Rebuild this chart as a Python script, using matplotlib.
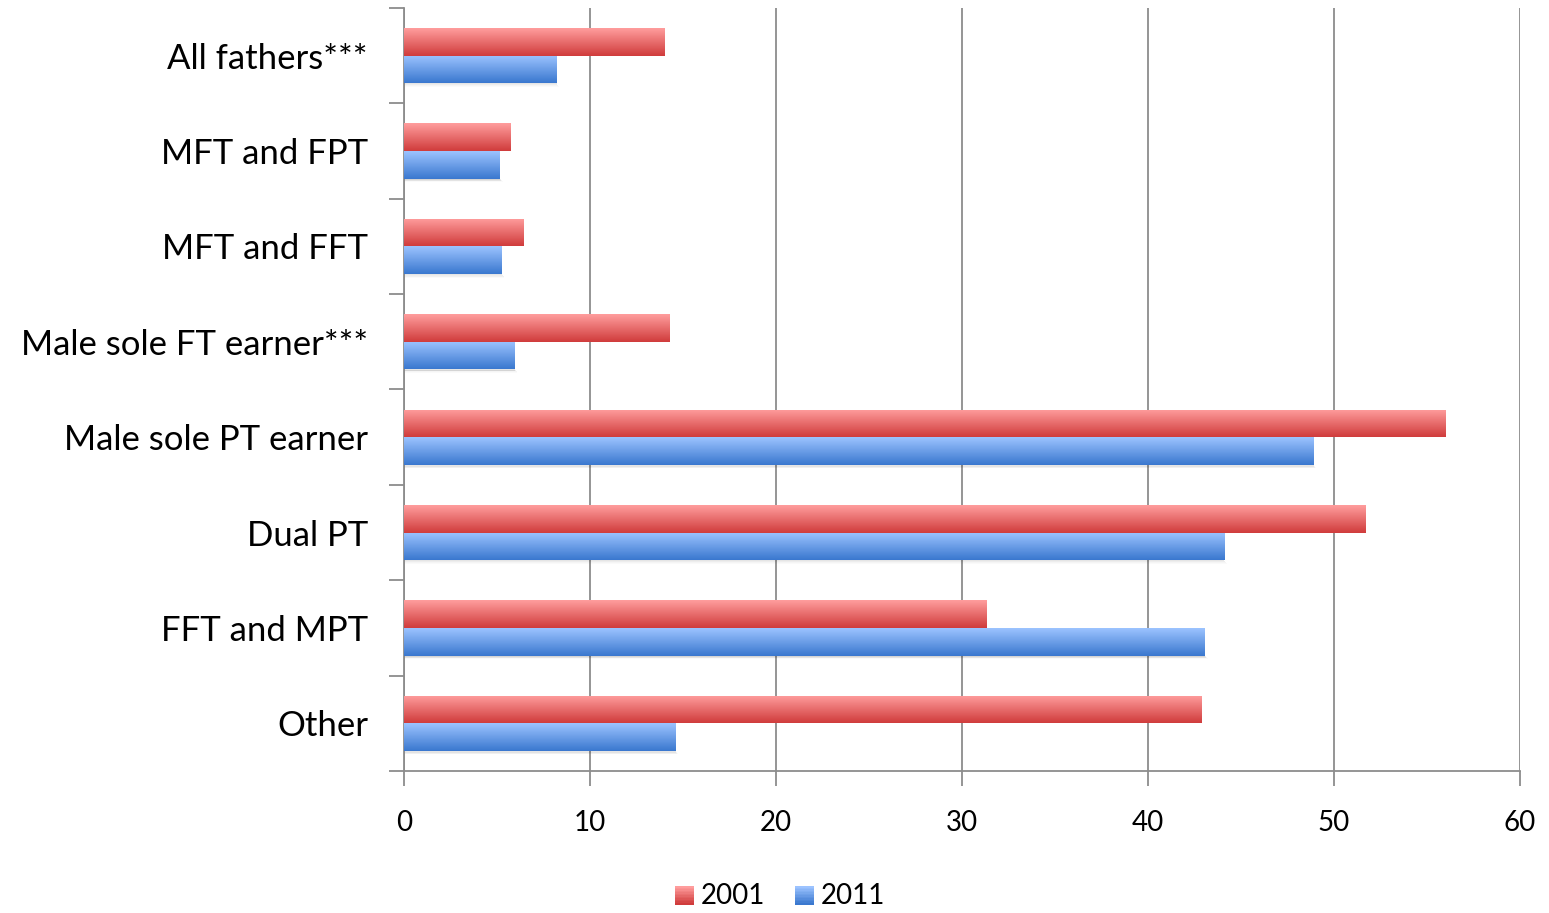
"""Horizontal grouped bar chart: 2001 vs 2011 by household work pattern."""

import matplotlib

matplotlib.use("Agg")
import matplotlib.pyplot as plt
import numpy as np
from matplotlib.colors import LinearSegmentedColormap
from matplotlib.legend_handler import HandlerBase
from matplotlib.patches import Rectangle

plt.rcParams["font.family"] = ["Lato", "DejaVu Sans"]

categories = [
    "All fathers***",
    "MFT and FPT",
    "MFT and FFT",
    "Male sole FT earner***",
    "Male sole PT earner",
    "Dual PT",
    "FFT and MPT",
    "Other",
]
values_2001 = [14.0, 5.75, 6.4, 14.25, 56.0, 51.7, 31.3, 42.9]
values_2011 = [8.2, 5.15, 5.25, 5.95, 48.9, 44.1, 43.05, 14.6]
series_labels = ["2001", "2011"]
x_ticks = [0, 10, 20, 30, 40, 50, 60]

RED = ("#ff9d9d", "#d03c3c")
BLUE = ("#9cc3ff", "#3a78cf")
AXIS_GREY = "#8c8c8c"
BAR_H = 0.29


def gradient_cmap(colors):
    return LinearSegmentedColormap.from_list("g", list(colors))


def gradient_bar(ax, x0, width, y_top, height, colors, zorder=3):
    # y axis is inverted, so y_top is the visual top edge of the bar
    rect = Rectangle((x0, y_top), width, height, facecolor="none", edgecolor="none")
    ax.add_patch(rect)
    grad = np.linspace(0, 1, 64).reshape(-1, 1)
    im = ax.imshow(
        grad,
        cmap=gradient_cmap(colors),
        extent=(x0, x0 + width, y_top + height, y_top),
        origin="upper",
        aspect="auto",
        interpolation="bilinear",
        zorder=zorder,
    )
    im.set_clip_path(rect)


class GradientHandler(HandlerBase):
    def __init__(self, colors):
        super().__init__()
        self.colors = colors

    def create_artists(self, legend, orig_handle, xdescent, ydescent,
                       width, height, fontsize, trans):
        size = min(width, height) * 0.95
        x = -xdescent + width - size
        y = -ydescent + (height - size) / 2 - 1
        artists = []
        n = 12
        cmap = gradient_cmap(self.colors)
        for k in range(n):
            artists.append(Rectangle(
                (x, y + size * (n - 1 - k) / n), size, size / n + 0.3,
                facecolor=cmap(k / (n - 1)), edgecolor="none", transform=trans))
        return artists


fig = plt.figure(figsize=(15.49, 9.13), dpi=100)
ax = fig.add_axes([404 / 1549, 1 - 771 / 913, (1520 - 404) / 1549, (771 - 8) / 913])

n = len(categories)
ax.set_xlim(0, 60)
ax.set_ylim(n, 0)

centers = np.arange(n) + 0.5
for c, v1, v2 in zip(centers, values_2001, values_2011):
    # soft shadow under each pair of bars
    for k, a in enumerate([0.10, 0.07, 0.04, 0.02]):
        ax.add_patch(Rectangle((0, c + BAR_H + 0.008 * k), v2 + 0.05 * k,
                               0.012, facecolor="black", alpha=a,
                               edgecolor="none", zorder=2))
    gradient_bar(ax, 0, v1, c - BAR_H, BAR_H, RED)
    gradient_bar(ax, 0, v2, c, BAR_H, BLUE)

# grid and axes
ax.set_xticks(x_ticks)
ax.set_xticklabels([str(t) for t in x_ticks])
ax.xaxis.grid(True, color=AXIS_GREY, linewidth=1.3, zorder=1)
ax.set_axisbelow(True)

ax.set_yticks(np.arange(n + 1))
ax.set_yticklabels([])
ax.set_yticks(centers, minor=True)
ax.set_yticklabels(categories, minor=True)
ax.tick_params(axis="y", which="minor", length=0, pad=26, labelsize=25)
ax.tick_params(axis="y", which="major", length=11, width=1.3, color=AXIS_GREY)
ax.tick_params(axis="x", length=11, width=1.3, color=AXIS_GREY, pad=17, labelsize=20)

for side in ("top", "right"):
    ax.spines[side].set_visible(False)
for side in ("left", "bottom"):
    ax.spines[side].set_color(AXIS_GREY)
    ax.spines[side].set_linewidth(1.3)

handles = [Rectangle((0, 0), 1, 1), Rectangle((0, 1), 1, 1)]
fig.legend(
    handles,
    series_labels,
    handler_map={handles[0]: GradientHandler(RED), handles[1]: GradientHandler(BLUE)},
    loc="center",
    bbox_to_anchor=(779 / 1549, 1 - 896 / 913),
    ncol=2,
    frameon=False,
    fontsize=20,
    handlelength=0.75,
    handletextpad=0.25,
    columnspacing=1.0,
)

fig.savefig("out.png", dpi=100)
